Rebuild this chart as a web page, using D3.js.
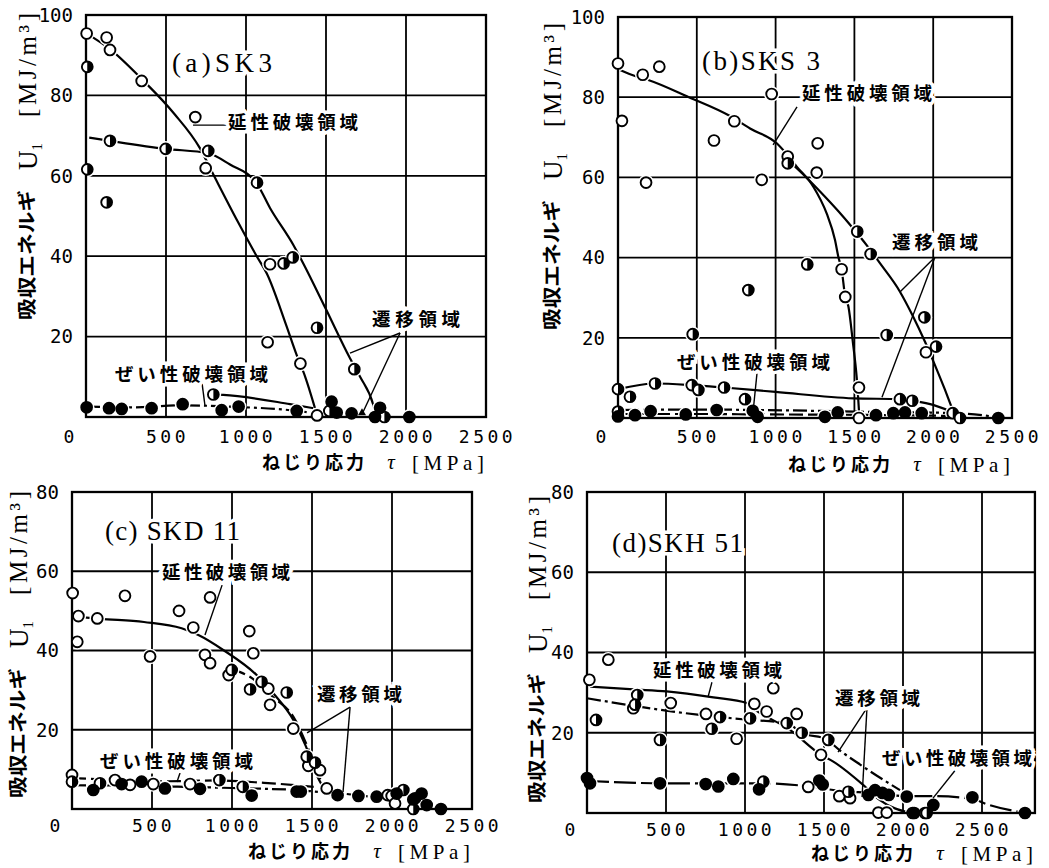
<!DOCTYPE html>
<html><head><meta charset="utf-8">
<script src="https://cdn.jsdelivr.net/npm/d3@7"></script>
<style>body{margin:0;background:#fff}svg{display:block}</style>
</head><body>
<svg id="chart" width="1049" height="868"></svg>
<script>
// ---------------- DATA (τ [MPa], U1 [MJ/m3]) ----------------
const xTicks = [500, 1000, 1500, 2000, 2500];
const yTicks100 = [20, 40, 60, 80, 100];
const yTicks80 = [20, 40, 60, 80];

// (a) SK3
const aOpen = [[4,95.4],[129,94.4],[150,91.3],[348,83.6],[683,74.6],[748,61.9],[1150,38.0],[1135,18.6],[1340,13.3],[1444,0.4]];
const aHalf = [[8,87.1],[8,61.6],[129,53.4],[150,68.7],[498,66.7],[764,66.2],[1069,58.3],[1235,38.2],[1292,39.7],[1444,22.2],[1677,11.9],[796,5.6],[1521,1.5],[1865,0]];
const aFilled = [[4,2.4],[144,2.2],[223,2.0],[410,2.2],[604,3.2],[848,1.7],[954,2.6],[1317,1.5],[1535,3.8],[1567,1.1],[1660,0.9],[1838,2.3],[1806,0],[2021,0]];
const aDuctile = [[0,95.5],[150,91.5],[350,84],[550,75.5],[710,67],[800,60],[950,48.5],[1067,40],[1130,35.7],[1250,23],[1317,15.4],[1370,10],[1440,1]];
const aTrans = [[20,69.5],[150,68.7],[500,66.7],[764,65.6],[900,62.8],[1069,58],[1150,52],[1296,42.8],[1358,38.2],[1500,26.8],[1650,14.6],[1713,10],[1796,3],[1815,0]];
const aTransLow = [[796,5.6],[858,5.5],[1275,3.2],[1420,2.2]];
const aBrittle = [[0,2.6],[300,2.4],[600,2.9],[950,2.5],[1300,1.6],[1450,0.8]];

// (b) SKS3
const bOpen = [[0,88.4],[25,74.1],[157,85.6],[262,87.6],[178,58.7],[609,69.2],[738,74],[975,80.8],[912,59.4],[1077,65.2],[1267,68.5],[1261,61.2],[1419,37.1],[1442,30.2],[1529,7.6],[1529,0],[1954,16.4]];
const bHalf = [[1077,63.5],[1518,46.5],[1603,40.9],[1201,38.3],[827,31.9],[474,20.9],[1705,20.7],[1944,25.1],[2018,17.8],[0,7.2],[76,5.3],[235,8.6],[468,8.2],[510,7.0],[673,7.6],[806,4.7],[1789,4.7],[1867,4.3],[2124,1.2],[2170,0],[0,1.6]];
const bFilled = [[0,0.4],[108,0.7],[207,1.7],[430,0.9],[626,2.0],[855,1.8],[886,0.3],[1313,0.3],[1394,1.4],[1637,0.7],[1747,1.2],[1821,1.4],[1927,1.2],[2413,0]];
const bDuctile = [[13,86.8],[108,85.3],[192,84.3],[450,80],[711,75.3],[838,72.2],[1007,68.5],[1077,65.5],[1134,62.7],[1239,57.7],[1324,51],[1377,44.4],[1398,40.2],[1419,37],[1442,30.2],[1462,27.8],[1490,19],[1515,9.9],[1532,0]];
const bTrans = [[1112,63.1],[1200,59.8],[1282,56.5],[1400,51.5],[1483,47.7],[1580,43],[1662,38.6],[1789,31.5],[1870,25.5],[1948,19],[2011,13.2],[2070,7.5],[2124,2],[2145,0]];
const bTransLow = [[0,7.2],[235,8.6],[468,8.2],[673,7.6],[1000,6.5],[1493,4.9],[1789,4.7],[1867,4.3],[2124,1.2],[2170,0]];
const bBrittle = [[0,2.0],[500,2.1],[900,2.0],[1500,1.6],[2150,1.2],[2413,0.2]];
const bBrittle2 = [[0,1.0],[500,1.0],[900,0.9],[1500,0.8],[2150,0.5]];

// (c) SKD11
const cOpen = [[4,54.5],[40,48.7],[33,42.2],[158,48.1],[331,53.8],[488,38.5],[669,50],[758,45.8],[863,53.4],[831,38.9],[863,36.8],[979,33.8],[1108,44.9],[1133,39.3],[1227,30.4],[1238,26.3],[1383,20.3],[1477,10.9],[1550,9.8],[1592,5.2],[1973,3.5],[1998,3.3],[2019,1.4],[0,8.6],[269,7.3],[363,6.1],[508,6.3],[738,6.3]];
const cHalf = [[0,6.9],[175,6.5],[921,7.3],[1067,5.6],[998,35.1],[1113,30.2],[1185,32.1],[1342,29.4],[1467,13.2],[1519,11.7],[2071,4.8],[2133,0]];
const cFilled = [[133,4.8],[310,6.3],[435,6.9],[581,5.2],[800,5.1],[1123,3.4],[1404,4.4],[1430,4.4],[1660,3.5],[1790,3.3],[1904,3.1],[2029,3.9],[2133,2.4],[2185,3.9],[2144,2.7],[2217,1.0],[2306,0]];
const cDuctile = [[40,48.5],[175,48],[450,47.2],[685,45.6],[790,43.9],[950,40],[1154,33.8],[1258,29.2],[1383,22.5],[1460,16],[1530,8.5],[1600,3.5]];
const cTrans = [[1000,35.3],[1133,32.8],[1258,28.2],[1383,23.3],[1490,14],[1570,6],[1630,3]];
const cTransLow = [[0,7.8],[300,7.3],[600,7.0],[900,7.2],[1200,6.6],[1400,6.0],[1530,5.5]];
const cBrittle = [[0,6.0],[300,5.9],[700,5.6],[1000,5.3],[1200,5.1],[1400,4.8],[1550,4.3],[1660,4.0],[1925,2.9],[2000,2.7]];

// (d) SKH51
const dOpen = [[15,33.2],[135,38.2],[293,26.1],[530,27.4],[753,24.7],[947,18.5],[1059,27.2],[1137,25.3],[1179,31.1],[1327,24.7],[1481,14.5],[1400,6.5],[1597,4.2],[1665,3.7],[1844,0.1],[1897,0.1],[2061,0],[2139,0]];
const dHalf = [[57,23.2],[318,29.4],[304,27],[462,18.2],[789,21],[842,23.9],[1032,23.6],[1264,22.4],[1359,20],[1527,18.2],[1116,7.8],[1654,5.3],[2150,0]];
const dFilled = [[0,8.7],[19,7.4],[462,7.4],[751,7.2],[831,6.6],[926,8.5],[1089,5.9],[1470,8.1],[1492,7.1],[1781,4.5],[1823,5.7],[1870,5.0],[1910,4.5],[2024,4.1],[2192,2.0],[2071,0],[2439,3.9],[2772,0]];
const dDuctile = [[20,31.5],[300,30.8],[504,30.3],[800,28.8],[1011,27.4],[1052,26.1],[1285,20.7],[1481,14.5],[1559,12.8],[1759,6.6],[1854,3.2],[2044,0]];
const dTrans = [[0,28.6],[330,26.5],[700,24.5],[1000,23.3],[1264,22.4],[1359,20],[1527,18.2],[1559,17],[1750,11.5],[1981,5.7]];
const dBrittle = [[0,8],[500,7.4],[1100,7.4],[1411,6.6],[1600,5.5],[1800,5],[2024,4.2],[2200,4.2],[2439,3.5],[2530,2.2],[2772,0]];

// region labels
const labelDuctile = "延性破壊領域";
const labelTrans = "遷移領域";
const labelBrittle = "ぜい性破壊領域";

// ---------------- LAYOUT ----------------
const SOLID = null, DASH = "14,5", DASHDOT = "14,4,3,4", LONGDASH = "22,5";
const panels = [
  { title:"(a)SK3", titleLen:100, titlePos:[537,88.3],
    xr:[86,486], yr:[417,15], yMax:100, frameXMax:2500, yTicks:yTicks100,
    yTitle:[27,320], tickDy:20, xTitleDy:46,
    open:aOpen, half:aHalf, filled:aFilled,
    lines:[[aDuctile,SOLID],[aTrans,SOLID],[aTransLow,SOLID],[aBrittle,DASHDOT]],
    labels:[
      {t:labelDuctile, len:130, at:[888,73.4], ptr:[[[669,72.6],[881,72.6]]]},
      {t:labelTrans, len:88, at:[1788,24.4], ptr:[[[1963,20.9],[1650,15.9]],[[1963,20.9],[1725,0.7]]], arrow:[1725,0.7]},
      {t:labelBrittle, len:153, at:[181,10.7], ptr:[[[725,8.5],[744,2.7]]]}
    ]},
  { title:"(b)SKS 3", titleLen:118, titlePos:[533,89.3],
    xr:[618,1012], yr:[418,17], yMax:100, frameXMax:2500, yTicks:yTicks100,
    yTitle:[552,330], tickDy:19, xTitleDy:47,
    open:bOpen, half:bHalf, filled:bFilled,
    lines:[[bDuctile,SOLID],[bTrans,SOLID],[bTransLow,SOLID],[bBrittle,DASHDOT],[bBrittle2,DASH]],
    labels:[
      {t:labelDuctile, len:130, at:[1168,81], ptr:[[[1136,77.6],[984,68.1]]]},
      {t:labelTrans, len:86, at:[1739,43.9], ptr:[[[2011,40.1],[1789,31.4]],[[2011,40.1],[1675,5.2]]]},
      {t:labelBrittle, len:153, at:[374,14], ptr:[[[882,11.2],[857,1.5]]]}
    ]},
  { title:"(c) SKD 11", titleLen:135, titlePos:[206,70.4],
    xr:[72,472], yr:[809,492], yMax:80, frameXMax:2500, yTicks:yTicks80,
    yTitle:[18,798], tickDy:17, xTitleDy:43,
    open:cOpen, half:cHalf, filled:cFilled,
    lines:[[cDuctile,SOLID],[cTrans,DASH],[cTransLow,DASH],[cBrittle,DASHDOT]],
    labels:[
      {t:labelDuctile, len:128, at:[563,59.6], ptr:[[[938,56.5],[831,43.9]]]},
      {t:labelTrans, len:85, at:[1531,29], ptr:[[[1738,25.7],[1469,19.2]],[[1738,25.7],[1694,4.3]]]},
      {t:labelBrittle, len:153, at:[175,12.1], ptr:[[[675,9.1],[656,6.8]]]}
    ]},
  { title:"(d)SKH 51", titleLen:131, titlePos:[158,67.5],
    xr:[587,982], yr:[813,492], yMax:80, frameXMax:2835, yTicks:yTicks80,
    yTitle:[537,803], tickDy:17, xTitleDy:41,
    open:dOpen, half:dHalf, filled:dFilled,
    lines:[[dDuctile,SOLID],[dTrans,DASHDOT],[dBrittle,LONGDASH]],
    labels:[
      {t:labelDuctile, len:129, at:[418,35.6], ptr:[[[791,32.6],[766,28.9]]]},
      {t:labelTrans, len:85, at:[1570,28.7], ptr:[[[1772,26.2],[1589,15.2]],[[1772,26.2],[1741,4]]]},
      {t:labelBrittle, len:150, at:[1867,13.7], ptr:[[[2342,11.2],[2190,3.7]]]}
    ]}
];

const CJK = "'Noto Sans CJK JP', sans-serif";
const SERIF = "'Liberation Serif', 'DejaVu Serif', serif";
const MONO = "'DejaVu Sans Mono', monospace";
const svg = d3.select("#chart");

panels.forEach(p => {
  const x = d3.scaleLinear().domain([0, 2500]).range(p.xr);
  const y = d3.scaleLinear().domain([0, p.yMax]).range(p.yr);
  const g = svg.append("g");
  const L = x(0), R = x(p.frameXMax), B = y(0), T = y(p.yMax);

  // grid
  const vt = xTicks.filter(v => v < p.frameXMax);
  g.selectAll(".vg").data(vt).join("line")
    .attr("x1", d => x(d)).attr("x2", d => x(d)).attr("y1", T).attr("y2", B)
    .attr("stroke", "#000").attr("stroke-width", 1.8);
  g.selectAll(".hg").data(p.yTicks.filter(v => v < p.yMax)).join("line")
    .attr("x1", L).attr("x2", R).attr("y1", d => y(d)).attr("y2", d => y(d))
    .attr("stroke", "#000").attr("stroke-width", 1.8);

  // tick labels
  g.selectAll(".yl").data(p.yTicks).join("text")
    .attr("x", L - 13).attr("y", d => y(d)).attr("dy", "0.36em")
    .attr("text-anchor", "end").attr("font-family", MONO).attr("font-size", 19)
    .text(d => d);
  g.selectAll(".xl").data(xTicks).join("text")
    .attr("x", d => x(d) + 1.5).attr("y", B + p.tickDy).attr("dy", "0.36em")
    .attr("text-anchor", "middle").attr("font-family", MONO).attr("font-size", 18)
    .attr("letter-spacing", 3.5).text(d => d);
  g.append("text").attr("x", L - 17).attr("y", B + p.tickDy).attr("dy", "0.36em")
    .attr("text-anchor", "middle").attr("font-family", MONO).attr("font-size", 18).text("0");

  // x axis title
  const xt = B + p.xTitleDy;
  g.append("text").attr("x", R - 122).attr("y", xt).attr("dy", "0.36em").attr("text-anchor", "end")
    .attr("font-family", CJK).attr("font-size", 18).attr("font-weight", 700)
    .attr("textLength", 102).attr("lengthAdjust", "spacing").text("ねじり応力");
  g.append("text").attr("x", R - 95).attr("y", xt).attr("dy", "0.3em").attr("text-anchor", "middle")
    .attr("font-family", SERIF).attr("font-style", "italic").attr("font-size", 21).text("τ");
  g.append("text").attr("x", R - 2).attr("y", xt).attr("dy", "0.34em").attr("text-anchor", "end")
    .attr("font-family", SERIF).attr("font-size", 21)
    .attr("textLength", 72).attr("lengthAdjust", "spacing").text("[MPa]");

  // y axis title (rotated)
  const yt = g.append("g").attr("transform", `translate(${p.yTitle[0]},${p.yTitle[1]}) rotate(-90)`);
  yt.append("text").attr("x", 0).attr("y", 0).attr("dy", "0.36em")
    .attr("font-family", CJK).attr("font-size", 19).attr("font-weight", 700)
    .attr("textLength", 130).attr("lengthAdjust", "spacingAndGlyphs").text("吸収エネルギ");
  const u = yt.append("text").attr("x", 150).attr("y", 0).attr("dy", "0.36em")
    .attr("font-family", SERIF).attr("font-size", 27);
  u.append("tspan").text("U");
  u.append("tspan").attr("font-size", 15).attr("dy", 5).text("1");
  yt.append("text").attr("x", 203).attr("y", 0).attr("dy", "0.36em")
    .attr("font-family", SERIF).attr("font-size", 25)
    .attr("textLength", 104).attr("lengthAdjust", "spacing").text("[MJ/m³]");

  // curves
  const line = d3.line().x(d => x(d[0])).y(d => y(d[1])).curve(d3.curveMonotoneX);
  p.lines.forEach(([data, dash]) => {
    g.append("path").attr("d", line(data)).attr("fill", "none")
      .attr("stroke", "#000").attr("stroke-width", 2.2)
      .attr("stroke-dasharray", dash);
  });

  // markers: halos first, then frame, then markers
  const all = [...p.open.map(d => [d, "o"]), ...p.half.map(d => [d, "h"]), ...p.filled.map(d => [d, "f"])];
  g.selectAll(".halo").data(all).join("circle")
    .attr("cx", d => x(d[0][0])).attr("cy", d => y(d[0][1])).attr("r", 7.8).attr("fill", "#fff");
  g.append("rect").attr("x", L).attr("y", T).attr("width", R - L).attr("height", B - T)
    .attr("fill", "none").attr("stroke", "#000").attr("stroke-width", 2.3);
  const R0 = 5.4;
  const mk = g.selectAll(".mk").data(all).join("g")
    .attr("transform", d => `translate(${x(d[0][0])},${y(d[0][1])})`);
  mk.append("circle").attr("r", R0)
    .attr("fill", d => d[1] === "f" ? "#000" : "#fff")
    .attr("stroke", "#000").attr("stroke-width", 1.9);
  mk.filter(d => d[1] === "h").append("path")
    .attr("d", `M0,${-R0} A${R0},${R0} 0 0 1 0,${R0} Z`).attr("fill", "#000");

  // region labels and pointers
  p.labels.forEach(lb => {
    lb.ptr.forEach(seg => {
      g.append("line").attr("x1", x(seg[0][0])).attr("y1", y(seg[0][1]))
        .attr("x2", x(seg[1][0])).attr("y2", y(seg[1][1]))
        .attr("stroke", "#000").attr("stroke-width", 1.4);
    });
    if (lb.arrow) {
      const ax = x(lb.arrow[0]), ay = y(lb.arrow[1]);
      g.append("path").attr("d", `M${ax},${ay - 6} L${ax - 4},${ay + 1} L${ax + 4},${ay + 1} Z`).attr("fill", "#000");
    }
    g.append("text").attr("x", x(lb.at[0])).attr("y", y(lb.at[1])).attr("dy", "0.36em")
      .attr("font-family", CJK).attr("font-size", 18.5).attr("font-weight", 700)
      .attr("textLength", lb.len).attr("lengthAdjust", "spacing")
      .attr("stroke", "#fff").attr("stroke-width", 7).attr("paint-order", "stroke")
      .attr("fill", "#000").text(lb.t);
  });

  // panel title
  g.append("text").attr("x", x(p.titlePos[0])).attr("y", y(p.titlePos[1])).attr("dy", "0.36em")
    .attr("font-family", SERIF).attr("font-size", 27)
    .attr("textLength", p.titleLen).attr("lengthAdjust", "spacing")
    .attr("stroke", "#fff").attr("stroke-width", 7).attr("paint-order", "stroke")
    .attr("fill", "#000").text(p.title);
});
</script>
</body></html>
